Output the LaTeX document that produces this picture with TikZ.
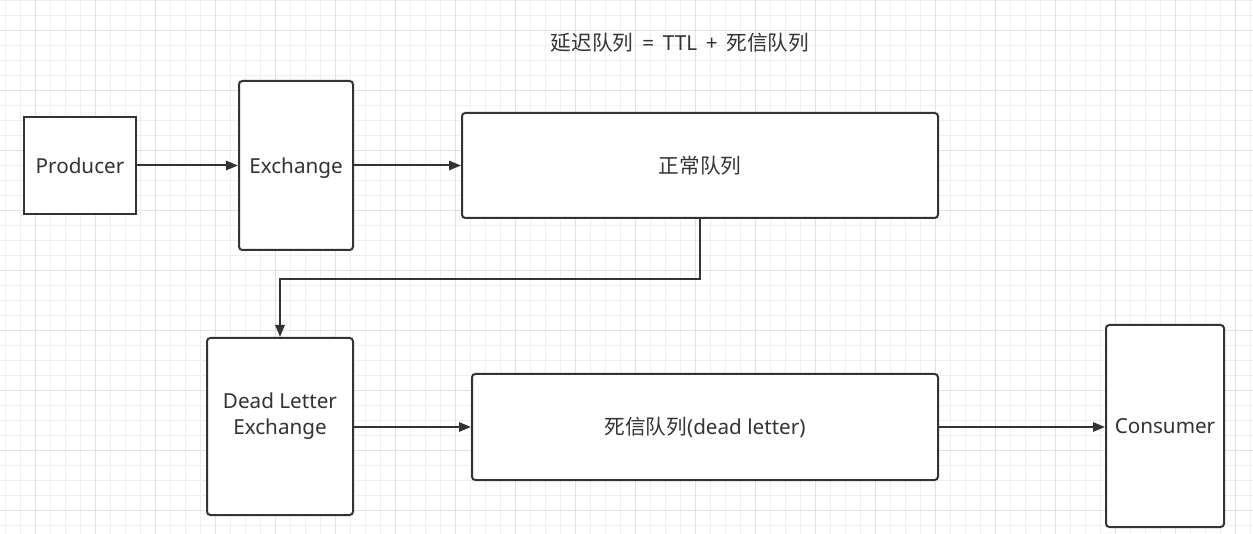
\documentclass[tikz,border=0pt]{standalone}
\usepackage{fontspec}
\setmainfont{Noto Sans}
\newfontfamily\cjk{Noto Sans CJK SC}
\usetikzlibrary{arrows.meta}
\definecolor{ink}{HTML}{333333}
\definecolor{gridminor}{HTML}{EFEFEF}
\definecolor{gridmajor}{HTML}{E2E2E2}
\tikzset{
  box/.style={draw=ink, line width=1.5pt, fill=white, rounded corners=2.5pt, inner sep=2pt, align=center, text=ink, text height=1.3em, text depth=0.15em, font=\fontsize{15.5}{19.5}\selectfont},
  sqbox/.style={box, sharp corners},
  lbl/.style={text=ink, align=center, font=\fontsize{15.5}{19.5}\selectfont},
  arr/.style={draw=ink, line width=1.5pt, -{Triangle[length=9pt,width=7pt]}},
  title/.style={text=ink, font=\fontsize{15.5}{19}\selectfont}
}
\begin{document}
\begin{tikzpicture}[x=0.75pt,y=-0.75pt]
\useasboundingbox (0,0) rectangle (1253,534);
\fill[white] (0,0) rectangle (1253,534);
\foreach \x in {5,20,...,1253} \draw[gridminor, line width=0.6pt] (\x,0) -- (\x,534);
\foreach \y in {0,15,...,534} \draw[gridminor, line width=0.6pt] (0,\y) -- (1253,\y);
\foreach \x in {35,95,...,1253} \draw[gridmajor, line width=0.6pt] (\x,0) -- (\x,534);
\foreach \y in {30,90,...,534} \draw[gridmajor, line width=0.6pt] (0,\y) -- (1253,\y);

\node[title] (t) at (680,43) {{\cjk 延迟队列}\ \,=\ \,TTL\ \,+\ \,{\cjk 死信队列}};

\node[sqbox, minimum width=84pt, minimum height=72.75pt] (prod) at (80,165.5) {Producer};
\node[box, minimum width=85.5pt, minimum height=126.75pt] (ex) at (296,165.5) {Exchange};
\node[box, minimum width=357pt, minimum height=78.75pt] (q1) at (700,165.5) {\cjk 正常队列};
\node[box, minimum width=109.5pt, minimum height=132.75pt] (dlx) at (280,426.5) {};
\node[lbl] (dlxt) at (280,416.5) {Dead Letter\\Exchange};
\node[box, minimum width=349.5pt, minimum height=79.5pt] (dq) at (705,427) {{\cjk 死信队列}(dead letter)};
\node[box, minimum width=88.5pt, minimum height=151.5pt] (cons) at (1165,426) {Consumer};

\coordinate (turn) at (700,279);
\draw[arr] (prod.east) -- (ex.west);
\draw[arr] (ex.east) -- (q1.west);
\draw[arr] (q1.south) -- (q1.south |- turn) -- (dlx.north |- turn) -- (dlx.north);
\draw[arr] (dlx.east |- dq.west) -- (dq.west);
\draw[arr] (dq.east) -- (cons.west |- dq.east);
\end{tikzpicture}
\end{document}
